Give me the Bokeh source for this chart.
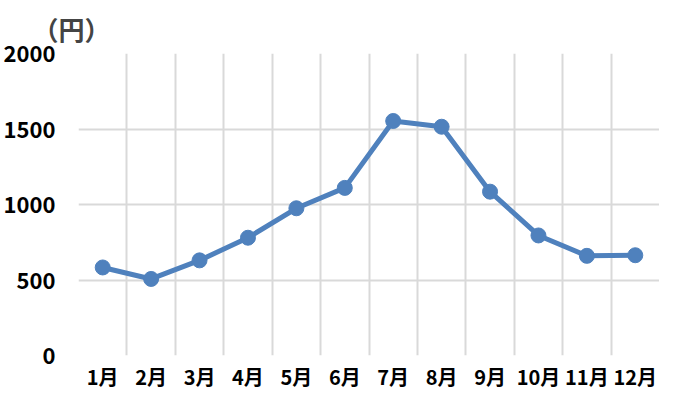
from bokeh.plotting import figure
from bokeh.models import FixedTicker
from bokeh.embed import file_html
from bokeh.resources import INLINE

months = ["1月", "2月", "3月", "4月", "5月", "6月", "7月", "8月", "9月", "10月", "11月", "12月"]
prices = [583, 507, 630, 780, 975, 1110, 1553, 1515, 1085, 795, 660, 664]
y_ticks = [0, 500, 1000, 1500, 2000]
unit_label = "（円）"

xs = list(range(1, len(months) + 1))

FONT = "Noto Sans CJK JP"

p = figure(
    width=659, height=393,
    x_range=(0.5, len(months) + 0.5), y_range=(0, 2000),
    output_backend="svg", toolbar_location=None,
    min_border_left=75, min_border_right=0, min_border_top=44, min_border_bottom=30,
)
p.outline_line_color = None
p.background_fill_color = "white"
p.border_fill_color = "white"

p.title.text = unit_label
p.title.text_font = FONT
p.title.text_font_style = "bold"
p.title.text_font_size = "26px"
p.title.align = "left"
p.title.offset = -46
p.title.standoff = 14

# grids
p.xgrid.ticker = FixedTicker(ticks=[i + 0.5 for i in range(0, len(months) + 1)])
p.ygrid.ticker = FixedTicker(ticks=y_ticks)
for g in (p.xgrid, p.ygrid):
    g.grid_line_color = "#D9D9D9"
    g.grid_line_width = 2

# axes
p.xaxis.ticker = FixedTicker(ticks=xs)
p.xaxis.major_label_overrides = {x: m for x, m in zip(xs, months)}
p.yaxis.ticker = FixedTicker(ticks=y_ticks)
for ax in (p.xaxis, p.yaxis):
    ax.axis_line_color = None
    ax.major_tick_line_color = None
    ax.minor_tick_line_color = None
    ax.major_tick_out = 0
    ax.major_tick_in = 0
    ax.major_label_text_font = FONT
    ax.major_label_text_font_style = "bold"
    ax.major_label_text_color = "black"
p.yaxis.major_label_text_font_size = "22px"
p.xaxis.major_label_text_font_size = "20px"
p.yaxis.major_label_standoff = 23
p.xaxis.major_label_standoff = 6

p.line(xs, prices, line_color="#4F81BD", line_width=5)
p.scatter(xs, prices, size=15, fill_color="#4F81BD", line_color="#4F81BD")

open("out.html", "w").write(file_html(p, INLINE))
